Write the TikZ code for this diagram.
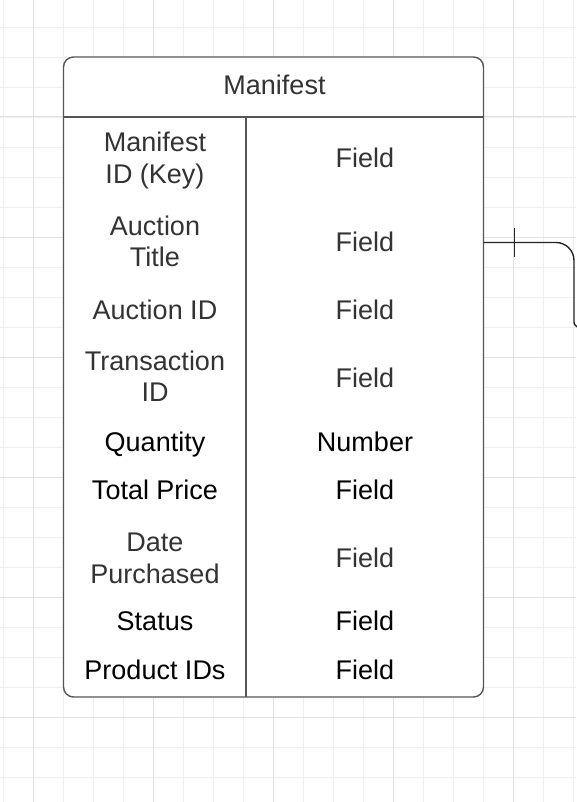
\documentclass[tikz,border=0pt]{standalone}
\usepackage{fontspec}
\setmainfont{Liberation Sans}
\definecolor{txtgray}{RGB}{51,51,51}
\definecolor{linegray}{RGB}{85,85,85}
\definecolor{gridminor}{RGB}{238,238,238}
\definecolor{gridmajor}{RGB}{226,226,226}
\begin{document}
\begin{tikzpicture}[x=1pt,y=-1pt,
  cell/.style={align=center,inner sep=0pt,anchor=base,font=\fontsize{27}{31.6}\selectfont},
  graytxt/.style={cell,text=txtgray},
  blacktxt/.style={cell,text=black},
  frame/.style={draw=linegray,line width=1.4pt}]
\useasboundingbox (0,0) rectangle (576,802);
\fill[white] (0,0) rectangle (576,802);
% grid
\foreach \x in {3,33,...,573} \draw[gridminor,line width=0.8pt] (\x,0) -- (\x,802);
\foreach \y in {27,57,...,800} \draw[gridminor,line width=0.8pt] (0,\y) -- (576,\y);
\foreach \x in {33,153,273,393,513} \draw[gridmajor,line width=1pt] (\x,0) -- (\x,802);
\foreach \y in {117,237,357,477,597,717} \draw[gridmajor,line width=1pt] (0,\y) -- (576,\y);
% table
\node[frame,fill=white,rounded corners=10pt,minimum width=420pt,minimum height=640pt,inner sep=0pt] (box) at (273.5,377) {};
\coordinate (hl) at (63.5,117);
\coordinate (hr) at (483.5,117);
\coordinate (vt) at (246,117);
\coordinate (vb) at (246,697);
\draw[frame] (hl) -- (hr);
\draw[frame] (vt) -- (vb);
\node[graytxt] (title) at (274.5,94.3) {Manifest};
% left column (base = baseline of last line)
\node[graytxt] (k1) at (155,183.3) {Manifest\\ID (Key)};
\node[graytxt] (k2) at (155,266.7) {Auction\\Title};
\node[graytxt] (k3) at (155,319) {Auction ID};
\node[graytxt] (k4) at (155,401.7) {Transaction\\ID};
\node[blacktxt] (k5) at (155,451) {Quantity};
\node[blacktxt] (k6) at (155,499) {Total Price};
\node[graytxt] (k7) at (155,583.3) {Date\\Purchased};
\node[blacktxt] (k8) at (155,630.7) {Status};
\node[blacktxt] (k9) at (155,679) {Product IDs};
% right column
\node[graytxt] (v1) at (365,167.7) {Field};
\node[graytxt] (v2) at (365,251.3) {Field};
\node[graytxt] (v3) at (365,319) {Field};
\node[graytxt] (v4) at (365,387.3) {Field};
\node[blacktxt] (v5) at (365,451) {Number};
\node[blacktxt] (v6) at (365,499) {Field};
\node[graytxt] (v7) at (365,567.7) {Field};
\node[blacktxt] (v8) at (365,630.7) {Field};
\node[blacktxt] (v9) at (365,679) {Field};
% connector
\coordinate (cs) at (483.5,242.5);
\draw[black!85,line width=1.4pt] (cs) -- (556,242.5) arc[start angle=90,end angle=0,radius=18pt] -- (574,320) .. controls (574,324) .. (577,327);
\coordinate (t1) at (514.5,228);
\coordinate (t2) at (514.5,257);
\draw[black!85,line width=1.4pt] (t1) -- (t2);
\end{tikzpicture}
\end{document}
